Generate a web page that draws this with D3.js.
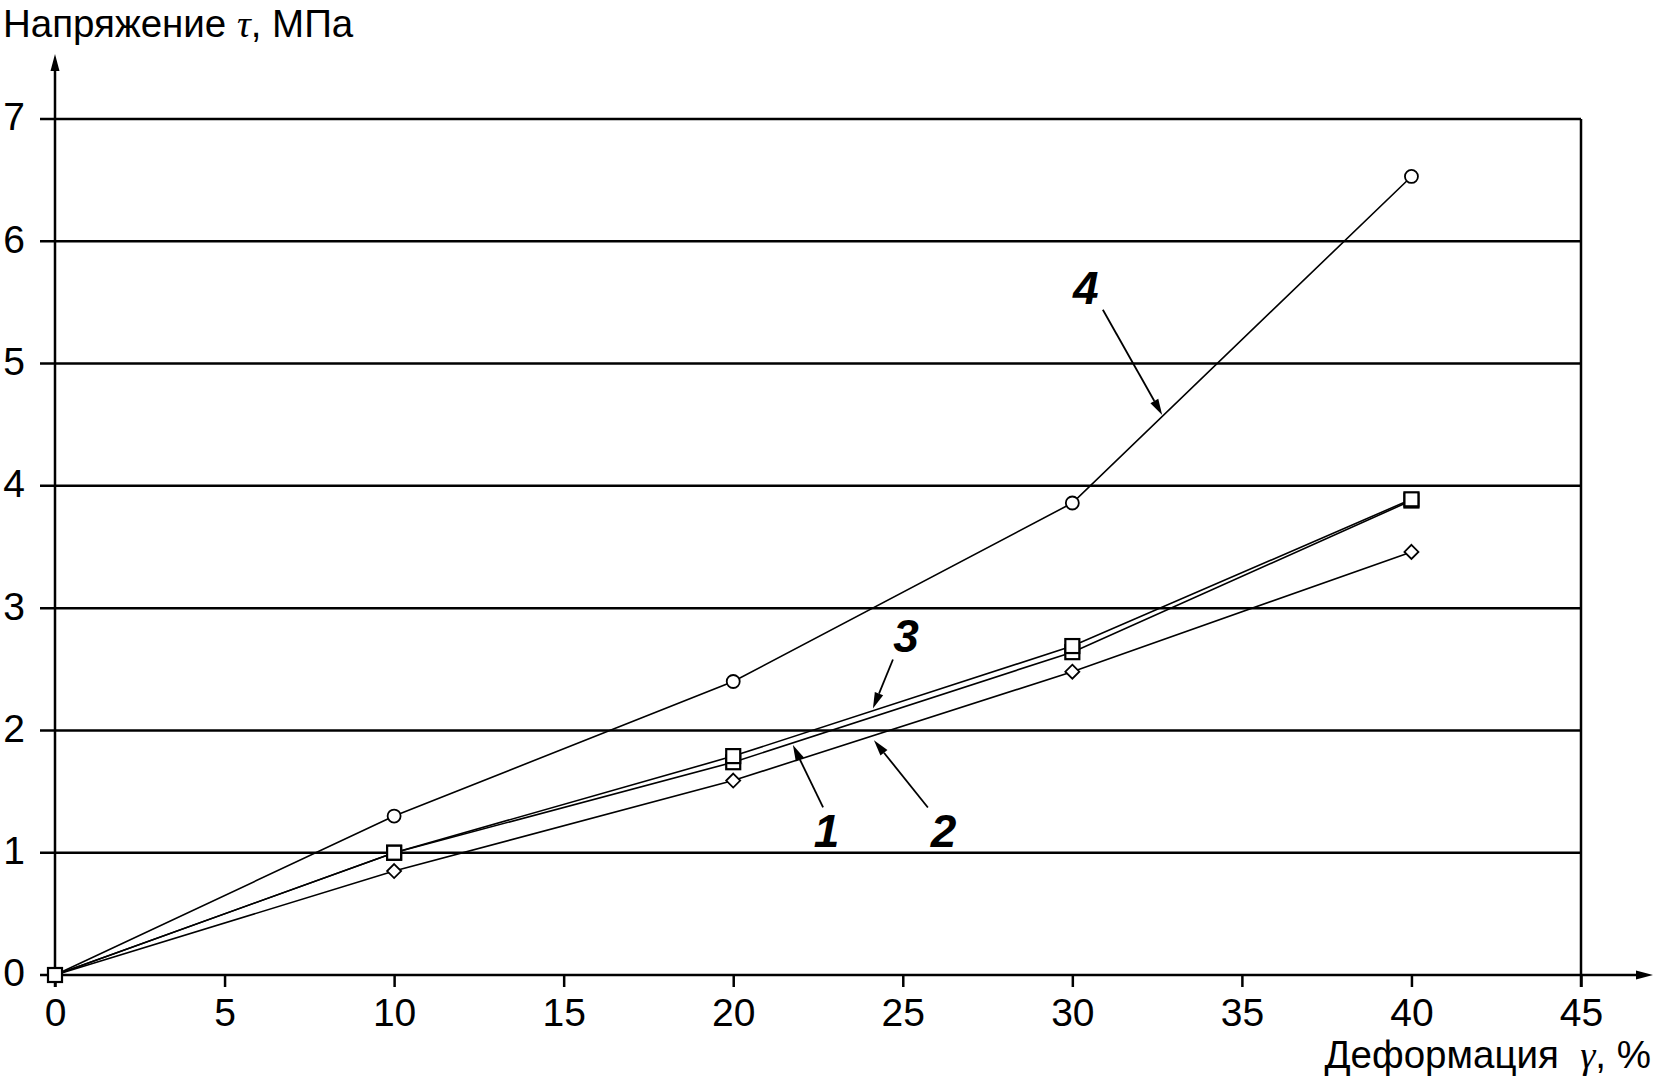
<!DOCTYPE html>
<html><head><meta charset="utf-8">
<script src="https://cdn.jsdelivr.net/npm/d3@7"></script>
<style>
html,body{margin:0;padding:0;background:#fff;}
svg{display:block;font-family:"Liberation Sans",Arial,sans-serif;}
</style></head>
<body>
<svg id="chart" width="1654" height="1081"></svg>
<script>
// ---- data ----
const xValues = [0, 10, 20, 30, 40];
const series1 = [0, 1.00, 1.74, 2.64, 3.88];   // squares (lower of the pair)
const series2 = [0, 0.85, 1.59, 2.48, 3.46];   // diamonds
const series3 = [0, 1.00, 1.79, 2.69, 3.89];   // squares (upper of the pair)
const series4 = [0, 1.30, 2.40, 3.86, 6.53];   // circles
const seriesNames = ["1", "2", "3", "4"];
const seriesMarkers = ["square", "diamond", "square", "circle"];
const xTicks = [0, 5, 10, 15, 20, 25, 30, 35, 40, 45];
const yTicks = [0, 1, 2, 3, 4, 5, 6, 7];
// annotation labels (data coordinates)
const labelNames = ["1", "2", "3", "4"];
const labelPos = [[22.75, 1.05], [26.2, 1.05], [25.1, 2.64], [30.4, 5.49]];
const arrowFrom = [[22.65, 1.37], [25.74, 1.37], [24.71, 2.58], [30.9, 5.44]];
const arrowTo = [[21.76, 1.88], [24.15, 1.92], [24.12, 2.18], [32.65, 4.58]];
const yTitle = "Напряжение ";
const yTitleSym = "τ";
const yTitleUnit = ", МПа";
const xTitle = "Деформация  ";
const xTitleSym = "γ";
const xTitleUnit = ", %";

// ---- drawing ----
const svg = d3.select("#chart");
const x = d3.scaleLinear().domain([0, 45]).range([55, 1581]);
const y = d3.scaleLinear().domain([0, 7]).range([975, 119]);

// gridlines
svg.append("g").selectAll("line").data(yTicks.filter(d => d > 0)).join("line")
  .attr("x1", 40).attr("x2", x(45))
  .attr("y1", d => y(d)).attr("y2", d => y(d))
  .attr("stroke", "#000").attr("stroke-width", 2.5);

// right border
svg.append("line").attr("x1", x(45)).attr("x2", x(45)).attr("y1", y(7)).attr("y2", y(0) + 12)
  .attr("stroke", "#000").attr("stroke-width", 2.5);

// x axis
const xAxis = d3.axisBottom(x).tickValues(xTicks).tickSize(12).tickPadding(11).tickFormat(d3.format("d"));
const gx = svg.append("g").attr("transform", `translate(0,${y(0)})`).call(xAxis);
gx.select(".domain").remove();
gx.selectAll(".tick line").attr("stroke", "#000").attr("stroke-width", 2.5);
gx.selectAll(".tick text").attr("font-size", 39).attr("fill", "#000")
  .attr("font-family", "Liberation Sans, Arial, sans-serif");

// y axis
const yAxis = d3.axisLeft(y).tickValues(yTicks).tickSize(0).tickPadding(30).tickFormat(d3.format("d"));
const gy = svg.append("g").attr("transform", `translate(${x(0)},0)`).call(yAxis);
gy.select(".domain").remove();
gy.selectAll(".tick text").attr("font-size", 39).attr("fill", "#000").attr("dy", "0.28em")
  .attr("font-family", "Liberation Sans, Arial, sans-serif");

// axis lines with arrows
svg.append("line").attr("x1", 40).attr("x2", 1640).attr("y1", y(0)).attr("y2", y(0))
  .attr("stroke", "#000").attr("stroke-width", 2.5);
svg.append("path").attr("d", `M1653,${y(0)} L1636,${y(0) - 4.5} L1636,${y(0) + 4.5} Z`).attr("fill", "#000");
svg.append("line").attr("x1", x(0)).attr("x2", x(0)).attr("y1", y(0) + 12).attr("y2", 68)
  .attr("stroke", "#000").attr("stroke-width", 2.5);
svg.append("path").attr("d", `M${x(0)},54 L${x(0) - 4.5},71 L${x(0) + 4.5},71 Z`).attr("fill", "#000");

// titles
const t1 = svg.append("text").attr("x", 3).attr("y", 37).attr("font-size", 38.5).attr("fill", "#000");
t1.append("tspan").text(yTitle);
t1.append("tspan").attr("font-style", "italic").attr("font-family", "Liberation Serif, serif").text(yTitleSym);
t1.append("tspan").text(yTitleUnit);
const t2 = svg.append("text").attr("x", 1651).attr("y", 1068).attr("font-size", 38.5)
  .attr("text-anchor", "end").attr("fill", "#000").style("white-space", "pre");
t2.append("tspan").text(xTitle);
t2.append("tspan").attr("font-style", "italic").attr("font-family", "Liberation Serif, serif").text(xTitleSym);
t2.append("tspan").text(xTitleUnit);

// series lines
const allSeries = [series1, series2, series3, series4];
const line = d3.line().x((d, i) => x(xValues[i])).y(d => y(d));
svg.append("g").selectAll("path").data(allSeries).join("path")
  .attr("d", d => line(d)).attr("fill", "none").attr("stroke", "#000").attr("stroke-width", 1.6);

// markers
const mg = svg.append("g");
allSeries.forEach((s, si) => {
  const m = seriesMarkers[si];
  s.forEach((v, i) => {
    if (i === 0 && si !== 0) return;
    const cx = x(xValues[i]), cy = y(v);
    if (m === "circle") {
      mg.append("circle").attr("cx", cx).attr("cy", cy).attr("r", 6.5)
        .attr("fill", "#fff").attr("stroke", "#000").attr("stroke-width", 1.8);
    } else if (m === "square") {
      mg.append("rect").attr("x", cx - 7).attr("y", cy - 7).attr("width", 14).attr("height", 14)
        .attr("fill", "#fff").attr("stroke", "#000").attr("stroke-width", 2.2);
    } else {
      mg.append("path").attr("d", `M${cx},${cy - 7} L${cx + 7},${cy} L${cx},${cy + 7} L${cx - 7},${cy} Z`)
        .attr("fill", "#fff").attr("stroke", "#000").attr("stroke-width", 1.8);
    }
  });
});

// annotations
const ag = svg.append("g");
labelNames.forEach((lab, i) => {
  const [fx, fy] = arrowFrom[i], [tx, ty] = arrowTo[i];
  const x1 = x(fx), y1 = y(fy), x2 = x(tx), y2 = y(ty);
  const ang = Math.atan2(y2 - y1, x2 - x1);
  const L = 16, W = 4.5;
  const bx = x2 - L * Math.cos(ang), by = y2 - L * Math.sin(ang);
  ag.append("line").attr("x1", x1).attr("y1", y1).attr("x2", bx).attr("y2", by)
    .attr("stroke", "#000").attr("stroke-width", 1.8);
  ag.append("path").attr("d",
    `M${x2},${y2} L${bx + W * Math.sin(ang)},${by - W * Math.cos(ang)} L${bx - W * Math.sin(ang)},${by + W * Math.cos(ang)} Z`)
    .attr("fill", "#000");
  ag.append("text").attr("x", x(labelPos[i][0])).attr("y", y(labelPos[i][1]))
    .attr("text-anchor", "middle").attr("font-size", 46).attr("font-style", "italic")
    .attr("font-weight", "bold").attr("fill", "#000").text(lab);
});
</script>
</body></html>
